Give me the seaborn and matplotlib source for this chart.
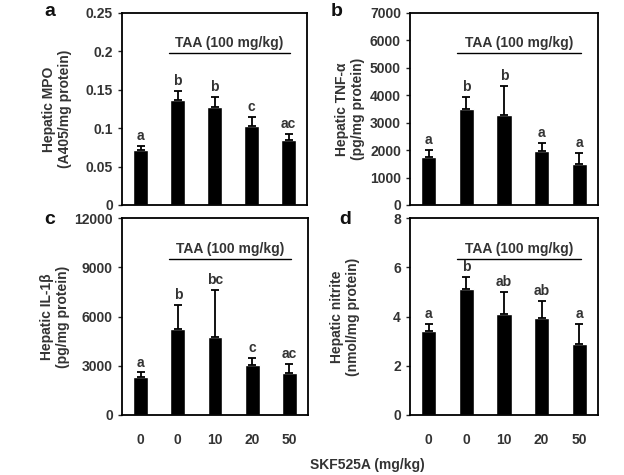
import numpy as np
import pandas as pd
import seaborn as sns
import matplotlib.pyplot as plt

groups = ["g1", "g2", "g3", "g4", "g5"]
dose_labels = ["0", "0", "10", "20", "50"]

mpo = [0.071, 0.137, 0.128, 0.103, 0.084]
mpo_err = [0.006, 0.012, 0.013, 0.012, 0.008]
mpo_letters = ["a", "b", "b", "c", "ac"]

tnf = [1740, 3510, 3280, 1985, 1480]
tnf_err = [260, 440, 1065, 290, 405]
tnf_letters = ["a", "b", "b", "a", "a"]

il1b = [2300, 5230, 4770, 3075, 2570]
il1b_err = [290, 1450, 2830, 410, 510]
il1b_letters = ["a", "b", "bc", "c", "ac"]

nitrite = [3.42, 5.13, 4.09, 3.92, 2.89]
nitrite_err = [0.27, 0.48, 0.89, 0.70, 0.82]
nitrite_letters = ["a", "b", "ab", "ab", "a"]

sns.set_theme(style="ticks")
plt.rcParams["font.family"] = ["Liberation Sans", "DejaVu Sans"]
plt.rcParams["font.weight"] = "bold"
txt = "#333333"
fs = 10

fig = plt.figure(figsize=(6.24, 4.75), dpi=100)
W, H = 624, 475
boxes = {
    "a": (122, 13, 307, 205),
    "b": (410, 13, 598, 205),
    "c": (122, 218, 308, 415),
    "d": (410, 218, 598, 415),
}
panels = {
    "a": (mpo, mpo_err, mpo_letters, 0.25, [0, 0.05, 0.1, 0.15, 0.2, 0.25],
          ["0", "0.05", "0.1", "0.15", "0.2", "0.25"], "Hepatic MPO\n(A405/mg protein)", False, 10),
    "b": (tnf, tnf_err, tnf_letters, 7000, list(range(0, 7001, 1000)), None,
          "Hepatic TNF-\u03b1\n(pg/mg protein)", False, 3.5),
    "c": (il1b, il1b_err, il1b_letters, 12000, [0, 3000, 6000, 9000, 12000], None,
          "Hepatic IL-1\u03b2\n(pg/mg protein)", True, 3),
    "d": (nitrite, nitrite_err, nitrite_letters, 8, [0, 2, 4, 6, 8], None,
          "Hepatic nitrite\n(nmol/mg protein)", True, 24),
}

for key, (vals, errs, letters, ymax, yt, ytl, ylab, showx, lpad) in panels.items():
    x0, y0, x1, y1 = boxes[key]
    ax = fig.add_axes([x0 / W, 1 - y1 / H, (x1 - x0) / W, (y1 - y0) / H])
    df = pd.DataFrame({"group": groups, "value": vals})
    sns.barplot(data=df, x="group", y="value", color="black", width=0.4,
                saturation=1, ax=ax, errorbar=None)
    ax.errorbar(range(5), vals, yerr=[np.zeros(5), errs], fmt="none",
                ecolor="black", elinewidth=1.3, capsize=3, capthick=1.3)
    for i, (v, e, l) in enumerate(zip(vals, errs, letters)):
        ax.text(i, v + e + ymax * 0.015, l, ha="center", va="bottom",
                fontsize=fs, fontweight="bold", color=txt)
    ax.set_xlim(-0.5, 4.5)
    ax.set_ylim(0, ymax)
    ax.set_yticks(yt)
    if ytl:
        ax.set_yticklabels(ytl)
    ax.tick_params(axis="y", labelsize=fs, labelcolor=txt, length=3, width=1, direction="out")
    ax.tick_params(axis="x", length=0, labelsize=fs, labelcolor=txt, pad=13)
    if showx:
        ax.set_xticks(range(5))
        ax.set_xticklabels(dose_labels)
    else:
        ax.set_xticklabels([])
    for lbl in ax.get_xticklabels() + ax.get_yticklabels():
        lbl.set_fontweight("bold")
    ax.set_xlabel("")
    ax.set_ylabel(ylab, fontsize=fs, fontweight="bold", color=txt, labelpad=lpad)
    for s in ax.spines.values():
        s.set_visible(True)
        s.set_linewidth(1.3)
        s.set_color("black")
    ax.plot([0.76, 4.05], [0.793 * ymax, 0.793 * ymax], color="black", lw=1.0)
    ax.text(2.4, 0.845 * ymax, "TAA (100 mg/kg)", ha="center", va="center",
            fontsize=fs, fontweight="bold", color=txt)

letter_pos = {"a": (50, 12), "b": (337, 12), "c": (50, 220), "d": (345, 220)}
for k, (px, py) in letter_pos.items():
    fig.text(px / W, 1 - py / H, k, fontsize=14, fontweight="bold", ha="center", va="center", color="#111111")

fig.text(367 / W, 1 - 465 / H, "SKF525A (mg/kg)", ha="center", va="center",
         fontsize=fs, fontweight="bold", color=txt)

fig.savefig("out.png", dpi=100, facecolor="white")
